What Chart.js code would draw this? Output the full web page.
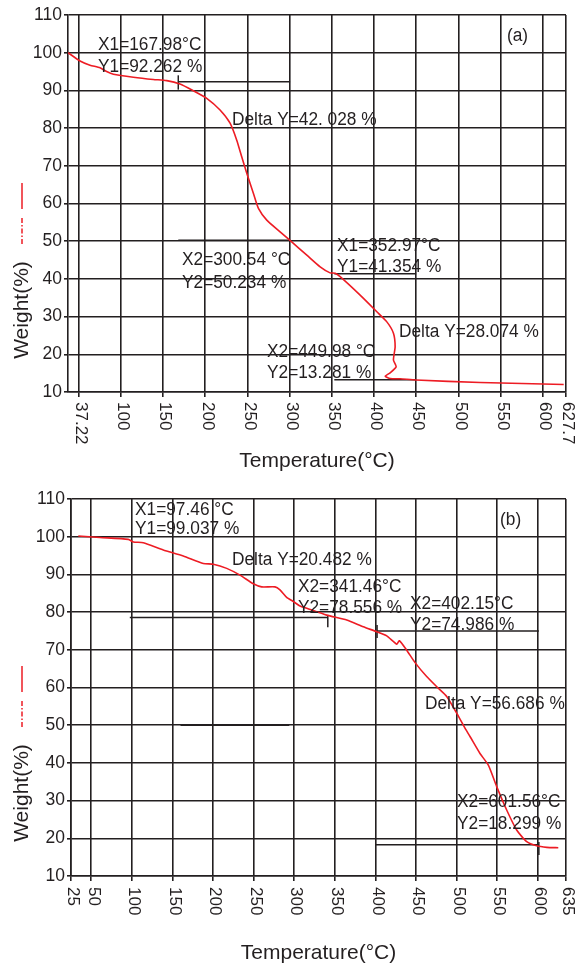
<!DOCTYPE html>
<html>
<head>
<meta charset="utf-8">
<script src="https://cdn.jsdelivr.net/npm/chart.js@4.4.1/dist/chart.umd.min.js"></script>
<style>
  body { margin: 0; background: #fff; }
  .box { position: absolute; left: 0; width: 582px; height: 483px; }
</style>
</head>
<body>
<div class="box" style="top:0"><canvas id="chartA" width="582" height="483"></canvas></div>
<div class="box" style="top:483px"><canvas id="chartB" width="582" height="483"></canvas></div>
<script>
const INK = "#231f20";
const RED = "#ed1c24";
const FONT = "'Liberation Sans', Arial, sans-serif";

// TGA curve (a)
const tempA = [37.22, 51.5, 63.3, 75.2, 83, 91, 114.7, 138.4, 154.3, 170, 185.9, 201.7, 217.5, 229.4, 237.3, 243.2, 249.2, 257, 263, 272.9, 288.7, 300.5, 320.4, 336.2, 348, 354, 359.9, 383.6, 403.4, 415.3, 423.1, 425.1, 423.1, 426.3, 419.2, 413.3, 419.2, 431, 450, 526, 625];
const weightA = [100, 97.8, 96.7, 96.0, 95.0, 94.3, 93.5, 92.9, 92.6, 91.7, 89.9, 87.9, 84.8, 81.3, 76.8, 72.4, 68.0, 62.7, 58.7, 55.6, 52.5, 50.2, 46.3, 43.2, 41.6, 41.5, 40.6, 35.7, 31.3, 28.6, 25.6, 22.0, 18.5, 16.7, 15.1, 14.2, 13.6, 13.5, 13.2, 12.5, 12.0];

// TGA curve (b)
const tempB = [34, 60.7, 95.6, 101.8, 114.1, 138.7, 163.4, 188, 200.4, 216.9, 233.3, 249.7, 260, 276.4, 282.5, 290.8, 299, 307.2, 315.5, 340.1, 364.8, 385.2, 401.7, 414.1, 426.4, 429.6, 438.7, 449, 463.3, 477.6, 488, 500.3, 510.5, 516.7, 529, 539.3, 549.6, 561.9, 574.2, 586.6, 598.9, 611.3, 625.5];
const weightB = [100.2, 99.8, 99.3, 98.6, 98.4, 96.5, 94.9, 92.9, 92.7, 91.6, 89.8, 87.5, 86.7, 86.7, 85.9, 83.9, 82.8, 81.6, 81.0, 79.2, 77.9, 76.1, 74.8, 73.7, 71.5, 72.4, 69.9, 66.6, 62.9, 59.8, 57.6, 53.2, 49.2, 47.0, 42.5, 39.4, 33.7, 27.5, 22.2, 19.1, 18.0, 17.6, 17.5];

const yTicks = [10, 20, 30, 40, 50, 60, 70, 80, 90, 100, 110];
const xTicksA = [50, 100, 150, 200, 250, 300, 350, 400, 450, 500, 550, 600, 627.7];
const xLabelsA = ["37.22", "100", "150", "200", "250", "300", "350", "400", "450", "500", "550", "600", "627.7"];
const xTicksB = [25, 50, 100, 150, 200, 250, 300, 350, 400, 450, 500, 550, 600, 635];
const xLabelsB = ["25", "50", "100", "150", "200", "250", "300", "350", "400", "450", "500", "550", "600", "635"];

// cursor lines [x1, y1, x2, y2]
const cursorsA = [
  [167.98, 92.262, 300.54, 92.262],
  [167.98, 90.2, 167.98, 94.0],
  [167.98, 50.234, 300.54, 50.234],
  [352.97, 41.354, 449.98, 41.354],
  [352.97, 13.281, 449.98, 13.281],
];
const cursorsB = [
  [97.46, 78.556, 341.46, 78.556],
  [341.46, 76.0, 341.46, 79.2],
  [160, 50.0, 294, 50.0],
  [402.15, 74.986, 601.56, 74.986],
  [402.15, 73.1, 402.15, 76.6],
  [400, 18.299, 601.56, 18.299],
  [601.56, 15.6, 601.56, 19.0],
];

// readout texts [text, x, y]
const notesA = [
  ["X1=167.98°C", 72.8, 102.0],
  ["Y1=92.262 %", 72.8, 96.3],
  ["Delta Y=42. 028 %", 231.7, 82.1],
  ["X2=300.54 °C", 172.4, 45.0],
  ["Y2=50.234 %", 172.4, 38.9],
  ["X1=352.97°C", 356.2, 48.7],
  ["Y1=41.354 %", 356.2, 43.2],
  ["Delta Y=28.074 %", 429.7, 25.9],
  ["X2=449.98 °C", 273.2, 20.6],
  ["Y2=13.281 %", 273.2, 15.0],
  ["(a)", 557.7, 104.4],
];
const notesB = [
  ["X1=97.46 °C", 103.9, 107.1],
  ["Y1=99.037 %", 103.9, 102.0],
  ["Delta Y=20.482 %", 223.4, 93.8],
  ["X2=341.46°C", 304.7, 86.7],
  ["Y2=78.556 %", 304.7, 81.1],
  ["X2=402.15°C", 442.8, 82.1],
  ["Y2=74.986 %", 442.8, 76.6],
  ["Delta Y=56.686 %", 461.2, 55.6],
  ["X2=601.56°C", 500.7, 29.6],
  ["Y2=18.299 %", 500.7, 23.8],
  ["(b)", 553.7, 104.4],
];

function overlay(cfg) {
  return {
    id: "overlay",
    afterDraw(chart) {
      const ctx = chart.ctx;
      const xs = chart.scales.x, ys = chart.scales.y, area = chart.chartArea;
      ctx.save();
      ctx.fillStyle = INK;

      // x tick labels read top to bottom
      ctx.font = "17px " + FONT;
      ctx.textAlign = "left";
      ctx.textBaseline = "middle";
      cfg.xTicks.forEach((v, i) => {
        ctx.save();
        ctx.translate(xs.getPixelForValue(v) + 2, area.bottom + cfg.labelGap);
        ctx.rotate(Math.PI / 2);
        ctx.fillText(cfg.xLabels[i], 0, 0);
        ctx.restore();
      });

      // y title sits low, under the legend marks
      ctx.save();
      ctx.font = "21px " + FONT;
      ctx.textAlign = "center";
      ctx.translate(22, 310);
      ctx.rotate(-Math.PI / 2);
      ctx.fillText("Weight(%)", 0, 0);
      ctx.restore();

      ctx.strokeStyle = RED;
      ctx.lineWidth = 1.5;
      ctx.beginPath(); ctx.moveTo(22, 183); ctx.lineTo(22, 209); ctx.stroke();
      ctx.setLineDash([5, 2, 1.5, 2]);
      ctx.beginPath(); ctx.moveTo(22, 218); ctx.lineTo(22, 245); ctx.stroke();
      ctx.setLineDash([]);

      // cursor readouts
      ctx.font = "18px " + FONT;
      cfg.notes.forEach(n => {
        ctx.save();
        ctx.translate(xs.getPixelForValue(n[1]), ys.getPixelForValue(n[2]));
        ctx.scale(0.96, 1);
        ctx.fillText(n[0], 0, 0);
        ctx.restore();
      });
      ctx.restore();
    }
  };
}

function makeChart(id, cfg) {
  const datasets = [{
    data: cfg.temps.map((t, i) => ({ x: t, y: cfg.weights[i] })),
    borderColor: RED,
    borderWidth: 1.6,
    pointRadius: 0,
    tension: 0.2,
  }];
  cfg.cursors.forEach(c => datasets.push({
    data: [{ x: c[0], y: c[1] }, { x: c[2], y: c[3] }],
    borderColor: INK,
    borderWidth: 1.5,
    pointRadius: 0,
  }));

  return new Chart(document.getElementById(id), {
    type: "line",
    data: { datasets },
    options: {
      responsive: false,
      animation: false,
      layout: { padding: cfg.padding },
      plugins: { legend: { display: false }, tooltip: { enabled: false } },
      scales: {
        x: {
          type: "linear",
          min: cfg.xMin,
          max: cfg.xMax,
          afterBuildTicks: s => { s.ticks = cfg.xTicks.map(v => ({ value: v })); },
          afterFit: s => { s.height = cfg.xHeight; },
          ticks: { display: false },
          grid: { color: INK, lineWidth: 1.6, tickLength: 5 },
          border: { color: INK, width: 1.6 },
          title: {
            display: true,
            text: "Temperature(°C)",
            color: INK,
            font: { size: 21, family: FONT },
            padding: { top: 0, bottom: cfg.titlePad },
          },
        },
        y: {
          min: 10,
          max: 110,
          afterBuildTicks: s => { s.ticks = yTicks.map(v => ({ value: v })); },
          afterFit: s => { s.width = cfg.yWidth; },
          ticks: { color: INK, font: { size: 17.5, family: FONT }, padding: 2 },
          grid: { color: INK, lineWidth: 1.6, tickLength: 4 },
          border: { color: INK, width: 1.6 },
        },
      },
    },
    plugins: [overlay(cfg)],
  });
}

makeChart("chartA", {
  temps: tempA, weights: weightA, cursors: cursorsA, notes: notesA,
  xMin: 37.22, xMax: 627.7, xTicks: xTicksA, xLabels: xLabelsA,
  padding: { top: 15, right: 16, left: 0, bottom: 0 },
  xHeight: 91, yWidth: 68, titlePad: 9, labelGap: 10,
});

makeChart("chartB", {
  temps: tempB, weights: weightB, cursors: cursorsB, notes: notesB,
  xMin: 25, xMax: 635, xTicks: xTicksB, xLabels: xLabelsB,
  padding: { top: 16, right: 16, left: 0, bottom: 0 },
  xHeight: 90, yWidth: 71, titlePad: 0, labelGap: 11,
});
</script>
</body>
</html>
